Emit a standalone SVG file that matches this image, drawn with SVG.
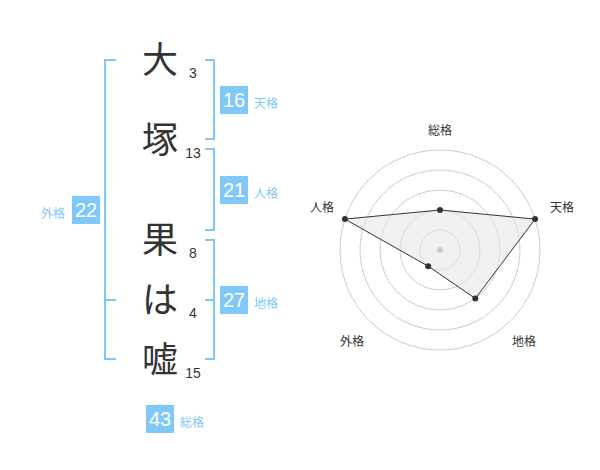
<svg xmlns="http://www.w3.org/2000/svg" width="600" height="470" viewBox="0 0 600 470">
<style>
.ch{font-family:"Noto Sans CJK JP","Noto Sans CJK SC",sans-serif;font-size:36px;fill:#333;text-anchor:middle}
.st{font-family:"Liberation Sans",Arial,sans-serif;font-size:14px;fill:#333;text-anchor:middle}
.br{fill:none;stroke:#80c8f8;stroke-width:2}
.box{fill:#80c8f8}
.bn{font-family:"Liberation Sans",Arial,sans-serif;font-size:20px;fill:#fff;text-anchor:middle}
.bl{font-family:"Noto Sans CJK JP",sans-serif;font-size:12px;fill:#80c8f8}
.ring{fill:none;stroke:#ccc;stroke-width:1}
.rl{font-family:"Noto Sans CJK JP",sans-serif;font-size:12px;fill:#333;text-anchor:middle}
.pt{fill:#333}
</style>
<rect width="600" height="470" fill="#fff"/>
<g id="name">
<text class="ch" x="160" y="73">大</text>
<text class="ch" x="160" y="153">塚</text>
<text class="ch" x="160" y="253">果</text>
<text class="ch" x="160" y="313">は</text>
<text class="ch" x="160" y="373">嘘</text>
<text class="st" x="193" y="78">3</text>
<text class="st" x="193" y="158">13</text>
<text class="st" x="193" y="258">8</text>
<text class="st" x="193" y="318">4</text>
<text class="st" x="193" y="378">15</text>
</g>
<g id="connectors">
<path class="br" d="M116,60H105V359H116M105,300H116"/>
<path class="br" d="M205,60H214V139H205"/>
<path class="br" d="M205,149H214V230H205"/>
<path class="br" d="M205,240H214V359H205M205,300H214"/>
</g>
<g id="tenkaku"><rect class="box" x="220" y="86" width="28" height="28"/><text class="bn" x="234" y="107">16</text><text class="bl" x="254" y="108">天格</text></g>
<g id="jinkaku"><rect class="box" x="220" y="176" width="28" height="28"/><text class="bn" x="234" y="197">21</text><text class="bl" x="254" y="198">人格</text></g>
<g id="chikaku"><rect class="box" x="220" y="286" width="28" height="28"/><text class="bn" x="234" y="307">27</text><text class="bl" x="254" y="308">地格</text></g>
<g id="gaikaku"><rect class="box" x="72" y="196" width="28" height="28"/><text class="bn" x="86" y="217">22</text><text class="bl" x="41" y="218">外格</text></g>
<g id="soukaku"><rect class="box" x="146" y="405" width="28" height="28"/><text class="bn" x="160" y="426">43</text><text class="bl" x="180" y="427">総格</text></g>
<g id="radar">
<circle class="ring" cx="440" cy="250" r="20"/>
<circle class="ring" cx="440" cy="250" r="40"/>
<circle class="ring" cx="440" cy="250" r="60"/>
<circle class="ring" cx="440" cy="250" r="80"/>
<circle class="ring" cx="440" cy="250" r="100"/>
<polygon points="440,210 535.1,219.1 475.3,298.5 428.2,266.2 344.9,219.1" fill="#e6e6e6" fill-opacity="0.6" stroke="#333" stroke-width="1"/>
<circle cx="440" cy="250" r="3" fill="#ccc"/>
<circle class="pt" cx="440" cy="210" r="3"/>
<circle class="pt" cx="535.1" cy="219.1" r="3"/>
<circle class="pt" cx="475.3" cy="298.5" r="3"/>
<circle class="pt" cx="428.2" cy="266.2" r="3"/>
<circle class="pt" cx="344.9" cy="219.1" r="3"/>
<text class="rl" x="440" y="135">総格</text>
<text class="rl" x="562" y="212">天格</text>
<text class="rl" x="322" y="212">人格</text>
<text class="rl" x="352" y="346">外格</text>
<text class="rl" x="524" y="346">地格</text>
</g>
</svg>
